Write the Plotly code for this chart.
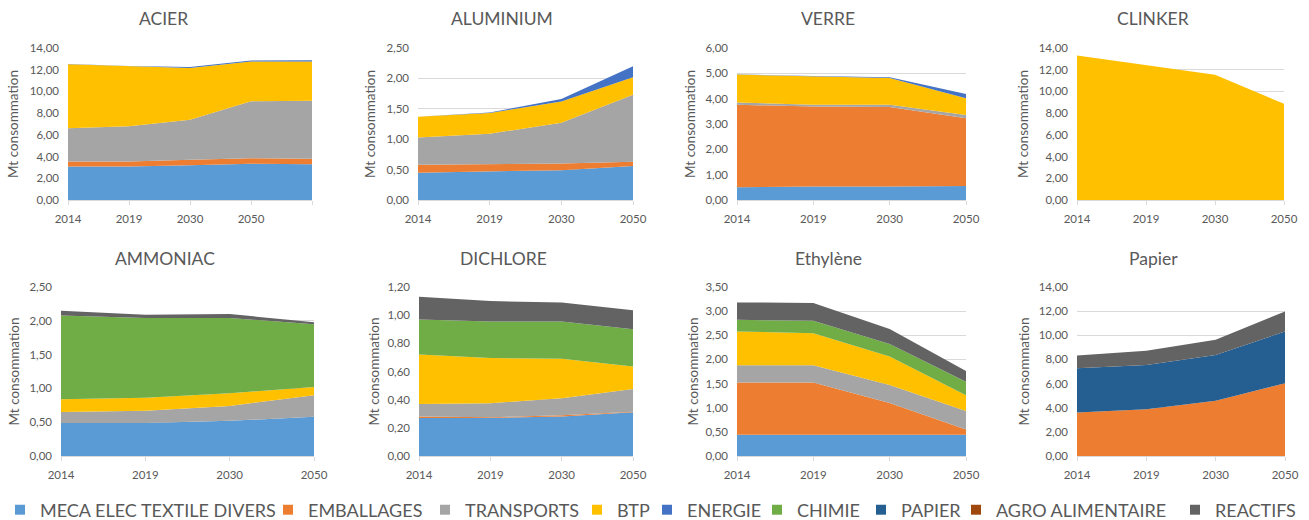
import plotly.graph_objects as go

W, H = 1309, 520


def fx(x):
    """Pixel x -> paper fraction."""
    return x / W


def fy(y):
    """Pixel y (from top) -> paper fraction."""
    return 1 - y / H


# Series (order = stacking order, bottom to top) and their colours
SERIES = ["MECA ELEC TEXTILE DIVERS", "EMBALLAGES", "TRANSPORTS", "BTP", "ENERGIE",
          "CHIMIE", "PAPIER", "AGRO ALIMENTAIRE", "REACTIFS"]
COLORS = ["#5B9BD5", "#ED7D31", "#A5A5A5", "#FFC000", "#4472C4",
          "#70AD47", "#255E91", "#9E480E", "#636363"]

YEARS = ["2014", "2019", "2030", "2050"]
ACIER_YEARS = ["2014", "2019", "2030", "2050", ""]

# Consumption in Mt per sector
acier = {
    "MECA ELEC TEXTILE DIVERS": [3.08, 3.08, 3.20, 3.35, 3.30],
    "EMBALLAGES": [0.47, 0.47, 0.50, 0.50, 0.50],
    "TRANSPORTS": [3.05, 3.25, 3.70, 5.25, 5.35],
    "BTP": [5.90, 5.50, 4.75, 3.65, 3.60],
    "ENERGIE": [0.03, 0.05, 0.10, 0.10, 0.12],
}
aluminium = {
    "MECA ELEC TEXTILE DIVERS": [0.45, 0.47, 0.49, 0.56],
    "EMBALLAGES": [0.13, 0.12, 0.11, 0.07],
    "TRANSPORTS": [0.45, 0.50, 0.67, 1.10],
    "BTP": [0.34, 0.34, 0.35, 0.29],
    "ENERGIE": [0.00, 0.01, 0.04, 0.18],
}
verre = {
    "MECA ELEC TEXTILE DIVERS": [0.50, 0.53, 0.53, 0.55],
    "EMBALLAGES": [3.26, 3.16, 3.14, 2.68],
    "TRANSPORTS": [0.09, 0.07, 0.09, 0.13],
    "BTP": [1.10, 1.12, 1.06, 0.66],
    "ENERGIE": [0.01, 0.01, 0.03, 0.16],
}
clinker = {
    "BTP": [13.32, 12.40, 11.54, 8.86],
}
ammoniac = {
    "MECA ELEC TEXTILE DIVERS": [0.49, 0.49, 0.52, 0.58],
    "TRANSPORTS": [0.16, 0.18, 0.22, 0.32],
    "BTP": [0.19, 0.19, 0.19, 0.12],
    "CHIMIE": [1.24, 1.18, 1.11, 0.93],
    "REACTIFS": [0.07, 0.05, 0.06, 0.03],
}
dichlore = {
    "MECA ELEC TEXTILE DIVERS": [0.27, 0.27, 0.28, 0.31],
    "EMBALLAGES": [0.01, 0.005, 0.01, 0.005],
    "TRANSPORTS": [0.09, 0.10, 0.12, 0.16],
    "BTP": [0.35, 0.32, 0.28, 0.16],
    "CHIMIE": [0.25, 0.26, 0.265, 0.265],
    "REACTIFS": [0.16, 0.145, 0.135, 0.135],
}
ethylene = {
    "MECA ELEC TEXTILE DIVERS": [0.44, 0.44, 0.44, 0.44],
    "EMBALLAGES": [1.08, 1.08, 0.66, 0.11],
    "TRANSPORTS": [0.36, 0.36, 0.37, 0.38],
    "BTP": [0.70, 0.66, 0.59, 0.33],
    "CHIMIE": [0.24, 0.26, 0.26, 0.28],
    "REACTIFS": [0.36, 0.37, 0.31, 0.22],
}
papier = {
    "EMBALLAGES": [3.60, 3.88, 4.57, 6.02],
    "PAPIER": [3.66, 3.66, 3.80, 4.29],
    "REACTIFS": [1.06, 1.17, 1.25, 1.67],
}

# title, data, categories, y max, y step
CHARTS = [
    ("ACIER", acier, ACIER_YEARS, 14, 2),
    ("ALUMINIUM", aluminium, YEARS, 2.5, 0.5),
    ("VERRE", verre, YEARS, 6, 1),
    ("CLINKER", clinker, YEARS, 14, 2),
    ("AMMONIAC", ammoniac, YEARS, 2.5, 0.5),
    ("DICHLORE", dichlore, YEARS, 1.2, 0.2),
    ("Ethylène", ethylene, YEARS, 3.5, 0.5),
    ("Papier", papier, YEARS, 14, 2),
]

# Panel geometry in pixels: plot left/right, plot top/bottom, chart title x, y-title x
PANELS = [
    (68, 312, 48, 200, 163, 13),
    (418, 633, 48, 200, 502, 370),
    (737, 966, 48, 200, 828, 690),
    (1077, 1284, 48, 200, 1153, 1023),
    (61, 314, 287, 456, 165, 13),
    (419, 633, 287, 456, 503, 373),
    (737, 966, 287, 456, 828, 692),
    (1077, 1285, 287, 456, 1153, 1023),
]

FONT = "Lato, 'Open Sans', sans-serif"
TXT = "#595959"
GRID = "#D9D9D9"

fig = go.Figure()
layout = {}
annotations = []

for i, ((title, data, cats, ymax, dy), (x0, x1, yt, yb, tx, ytx)) in enumerate(zip(CHARTS, PANELS)):
    n = i + 1
    xa = "xaxis" if n == 1 else f"xaxis{n}"
    ya = "yaxis" if n == 1 else f"yaxis{n}"
    xr = "x" if n == 1 else f"x{n}"
    yr = "y" if n == 1 else f"y{n}"
    pos = list(range(len(cats)))
    for name in SERIES:
        if name not in data:
            continue
        fig.add_trace(go.Scatter(
            x=pos, y=data[name], name=name, xaxis=xr, yaxis=yr,
            stackgroup=f"s{n}", mode="lines", line=dict(width=0),
            fillcolor=COLORS[SERIES.index(name)], showlegend=False,
            hoverinfo="skip",
        ))
    layout[xa] = dict(
        domain=[fx(x0), fx(x1)], anchor=yr, range=[0, len(cats) - 1],
        tickvals=pos, ticktext=cats, showgrid=False, zeroline=False,
        showline=True, linecolor=GRID, linewidth=1,
        ticks="outside", ticklen=4, tickcolor=GRID,
        tickfont=dict(family=FONT, size=11.5, color=TXT), ticklabelstandoff=4,
        fixedrange=True,
    )
    layout[ya] = dict(
        domain=[fy(yb), fy(yt)], anchor=xr, range=[0, ymax], dtick=dy,
        tick0=0, tickformat=".2f", showgrid=True, gridcolor=GRID, gridwidth=1,
        zeroline=False, showline=False, ticks="",
        tickfont=dict(family=FONT, size=11.5, color=TXT), ticklabelstandoff=8,
        fixedrange=True,
    )
    title_y = 19 if yt < 100 else 258
    annotations.append(dict(
        text=title, xref="paper", yref="paper", x=fx(tx), y=fy(title_y),
        xanchor="center", yanchor="middle", showarrow=False,
        font=dict(family=FONT, size=17.5, color=TXT),
    ))
    annotations.append(dict(
        text="Mt consommation", xref="paper", yref="paper", x=fx(ytx),
        y=fy((yt + yb) / 2), textangle=-90, xanchor="center", yanchor="middle",
        showarrow=False, font=dict(family=FONT, size=13.5, color=TXT),
    ))

# Legend: one entry per sector, each in its own legend box along the bottom.
# Values are the x of each colour swatch centre.
LEGEND_SWATCH = [23.5, 296, 453, 605, 675, 785, 889, 984, 1203]
for k, (name, color) in enumerate(zip(SERIES, COLORS)):
    key = "legend" if k == 0 else f"legend{k + 1}"
    fig.add_trace(go.Scatter(
        x=[None], y=[None], name=name, mode="markers",
        marker=dict(symbol="square", size=10, color=color),
        showlegend=True, legend=key, hoverinfo="skip",
    ))
    layout[key] = dict(
        x=fx(max(0, LEGEND_SWATCH[k] - 28)), y=fy(510), xanchor="left", yanchor="middle",
        orientation="h", bgcolor="rgba(0,0,0,0)", borderwidth=0,
        font=dict(family=FONT, size=18, color=TXT), itemwidth=30,
        itemclick=False, itemdoubleclick=False,
    )

fig.update_layout(
    width=W, height=H, margin=dict(l=0, r=0, t=0, b=0, autoexpand=False),
    paper_bgcolor="white", plot_bgcolor="white",
    separators=", ", annotations=annotations, showlegend=True,
    **layout,
)

fig.write_html("out.html", config={"displayModeBar": False})
